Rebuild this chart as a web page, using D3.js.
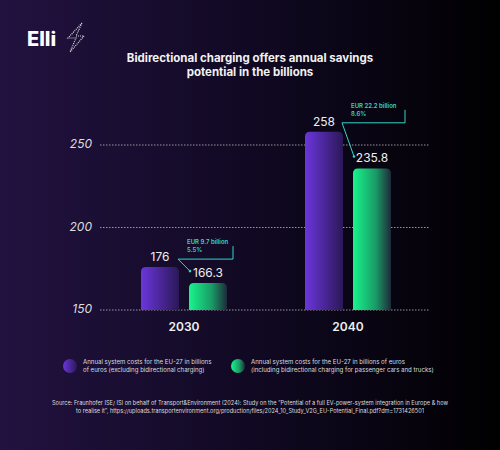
<!DOCTYPE html><html><head><meta charset="utf-8"><script src="https://cdn.jsdelivr.net/npm/d3@7"></script>
<style>body{margin:0;background:#000}svg{display:block;font-family:Inter,"Noto Sans",sans-serif}</style></head><body>
<svg id="c" width="500" height="450"></svg>
<script>
const years=["2030","2040"];
const withoutBidi=[176,258];
const withBidi=[166.3,235.8];
const savingsText=["EUR 9.7 billion","EUR 22.2 billion"];
const savingsPct=["5.5%","8.6%"];
const ticks=[150,200,250];
const legendLabels=[["Annual system costs for the EU-27 in billions","of euros (excluding bidirectional charging)"],["Annual system costs for the EU-27 in billions of euros","(including bidirectional charging for passenger cars and trucks)"]];

const svg=d3.select("#c");
const defs=svg.append("defs");
const bg=defs.append("linearGradient").attr("id","bg");
bg.append("stop").attr("offset","0").attr("stop-color","#221240");
bg.append("stop").attr("offset","0.55").attr("stop-color","#0f0820");
bg.append("stop").attr("offset","1").attr("stop-color","#000");
const gp=defs.append("linearGradient").attr("id","gp");
gp.append("stop").attr("offset","0").attr("stop-color","#6b36dc");
gp.append("stop").attr("offset","1").attr("stop-color","#2b1858");
const gg=defs.append("linearGradient").attr("id","gg");
gg.append("stop").attr("offset","0").attr("stop-color","#17f58c");
gg.append("stop").attr("offset","0.6").attr("stop-color","#1a9a66");
gg.append("stop").attr("offset","1").attr("stop-color","#1e2a3a");
svg.append("rect").attr("width",500).attr("height",450).attr("fill","url(#bg)");

svg.append("text").attr("x",27).attr("y",46).attr("fill","#fff").attr("font-size",20).attr("font-weight",800).text("Elli");
svg.append("path").attr("d","M82 23 L68 38 L76 38 L70 52 L84 36 L76 36 Z").attr("fill","none").attr("stroke","#ddd").attr("stroke-width",1.2).attr("stroke-dasharray","1,1");

svg.append("text").attr("x",250).attr("y",62).attr("text-anchor","middle").attr("fill","#f2f2f2").attr("font-size",11.5).attr("font-weight",700).text("Bidirectional charging offers annual savings");
svg.append("text").attr("x",250).attr("y",76).attr("text-anchor","middle").attr("fill","#f2f2f2").attr("font-size",11.5).attr("font-weight",700).text("potential in the billions");

const y=d3.scaleLinear().domain([150,250]).range([310,145]);
const x=d3.scalePoint().domain(years).range([184,348]);
const bw=38, offs=[-43,5];

ticks.forEach(t=>{
  svg.append("line").attr("x1",100).attr("x2",430).attr("y1",y(t)).attr("y2",y(t)).attr("stroke","#bbb").attr("stroke-width",0.8).attr("stroke-dasharray","1.5,1.5");
  svg.append("text").attr("x",92).attr("y",y(t)+3).attr("text-anchor","end").attr("fill","#ddd").attr("font-size",12).attr("font-style","italic").text(t);
});

function bar(x0,w,v,fill){
  const top=y(v),b=y(150),r=5;
  svg.append("path").attr("d",`M${x0} ${b} V${top+r} Q${x0} ${top} ${x0+r} ${top} H${x0+w-r} Q${x0+w} ${top} ${x0+w} ${top+r} V${b} Z`).attr("fill",fill);
}
const series=[withoutBidi,withBidi],fills=["url(#gp)","url(#gg)"];
years.forEach((yr,i)=>{
  series.forEach((s,j)=>{
    const bx=x(yr)+offs[j];
    bar(bx,bw,s[i],fills[j]);
    svg.append("text").attr("x",bx+bw/2).attr("y",y(s[i])-6).attr("text-anchor","middle").attr("fill","#eee").attr("font-size",12).text(s[i]);
  });
  svg.append("text").attr("x",x(yr)).attr("y",331).attr("text-anchor","middle").attr("fill","#f0f0f0").attr("font-size",12).attr("font-weight",600).text(yr);
  const px=x(yr)+offs[0]+bw, gx=x(yr)+offs[1];
  const ly=y(withoutBidi[i])+(i==0?-8:-9);
  const ex=gx+(i==0?44:52);
  svg.append("path").attr("d",`M${ex} ${ly-13} V${ly} H${px-1} L${gx+1} ${y(withBidi[i])-12}`).attr("fill","none").attr("stroke","#33d6c6").attr("stroke-width",1);
  svg.append("circle").attr("cx",gx+1).attr("cy",y(withBidi[i])-12).attr("r",1.3).attr("fill","#33d6c6");
  svg.append("text").attr("x",px+8).attr("y",ly-15).attr("fill","#33d6c6").attr("font-size",6).attr("font-weight",600).text(savingsText[i]);
  svg.append("text").attr("x",px+8).attr("y",ly-7).attr("fill","#33d6c6").attr("font-size",6).attr("font-weight",600).text(savingsPct[i]);
});

const lx=[70,238];
legendLabels.forEach((l,i)=>{
  svg.append("circle").attr("cx",lx[i]).attr("cy",366).attr("r",7).attr("fill",fills[i]);
  l.forEach((t,k)=>svg.append("text").attr("x",lx[i]+13).attr("y",364+k*8).attr("fill","#ddd").attr("font-size",6.1).text(t));
});
svg.append("text").attr("x",250).attr("y",405).attr("text-anchor","middle").attr("fill","#ddd").attr("font-size",5.6).text("Source: Fraunhofer ISE/ ISI on behalf of Transport&Environment (2024): Study on the “Potential of a full EV-power-system integration in Europe & how");
svg.append("text").attr("x",250).attr("y",413).attr("text-anchor","middle").attr("fill","#ddd").attr("font-size",5.6).text("to realise it”, https://uploads.transportenvironment.org/production/files/2024_10_Study_V2G_EU-Potential_Final.pdf?dm=1731426501");
</script></body></html>
